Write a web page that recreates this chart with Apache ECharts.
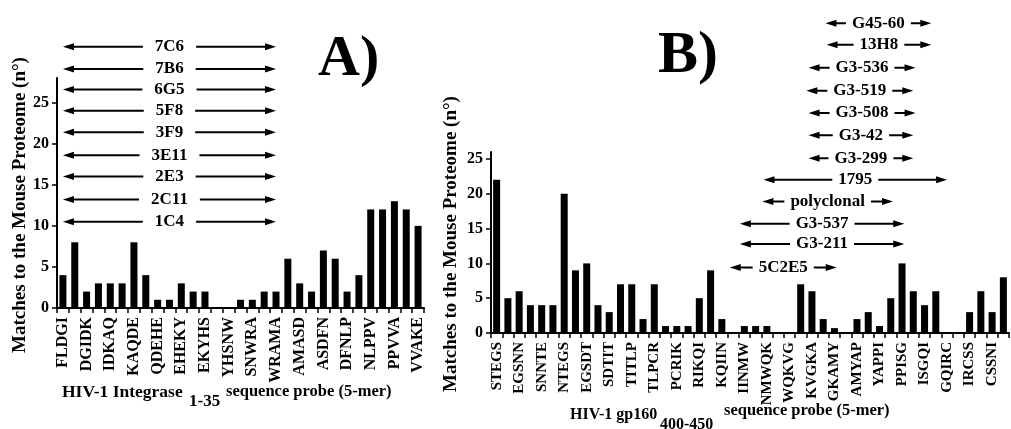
<!DOCTYPE html>
<html>
<head>
<meta charset="utf-8">
<script src="https://cdn.jsdelivr.net/npm/echarts@6/dist/echarts.min.js"></script>
<style>
  html, body { margin: 0; padding: 0; background: #fff; }
  #main { width: 1011px; height: 429px; }
</style>
</head>
<body>
<div id="main"></div>
<script>
// HIV-1 Integrase 1-35, 5-mer probes
var probesA = ['FLDGI','LDGID','DGIDK','GIDKA','IDKAQ','DKAQD','KAQDE','AQDEH','QDEHE','DEHEK',
  'EHEKY','HEKYH','EKYHS','KYHSN','YHSNW','HSNWR','SNWRA','NWRAM','WRAMA','RAMAS',
  'AMASD','MASDF','ASDFN','SDFNL','DFNLP','FNLPP','NLPPV','LPPVV','PPVVA','PVVAK','VVAKE'];
var matchesA = [4, 8, 2, 3, 3, 3, 8, 4, 1, 1, 3, 2, 2, 0, 0, 1, 1, 2, 2, 6, 3, 2, 7, 6, 2, 4, 12, 12, 13, 12, 10];

// HIV-1 gp160 400-450, 5-mer probes
var probesB = ['STEGS','TEGSN','EGSNN','GSNNT','SNNTE','NNTEG','NTEGS','TEGSD','EGSDT','GSDTI',
  'SDTIT','DTITL','TITLP','ITLPC','TLPCR','LPCRI','PCRIK','CRIKQ','RIKQI','IKQII',
  'KQIIN','QIINM','IINMW','INMWQ','NMWQK','MWQKV','WQKVG','QKVGK','KVGKA','VGKAM',
  'GKAMY','KAMYA','AMYAP','MYAPP','YAPPI','APPIS','PPISG','PISGQ','ISGQI','SGQIR',
  'GQIRC','QIRCS','IRCSS','RCSSN','CSSNI','SSNIT'];
var matchesB = [22, 5, 6, 4, 4, 4, 20, 9, 10, 4, 3, 7, 7, 2, 7, 1, 1, 1, 5, 9,
  2, 0, 1, 1, 1, 0, 0, 7, 6, 2, 0.7, 0, 2, 3, 1, 5, 10, 6, 4, 6, 0, 0, 3, 6, 3, 8];

var yTicks = [0, 5, 10, 15, 20, 25];

// antibody spans: [name, from probe index, to probe index, row level (axis units)]
var mabsA = [
  ['7C6', 0, 18, 31.8], ['7B6', 0, 18, 29.1], ['6G5', 0, 18, 26.6],
  ['5F8', 0, 18, 24.0], ['3F9', 0, 18, 21.4], ['3E11', 0, 18, 18.6],
  ['2E3', 0, 18, 16.0], ['2C11', 0, 18, 13.2], ['1C4', 0, 18, 10.5]
];
var mabsB = [
  ['G45-60', 29.2, 38.6, 44.5], ['13H8', 29.3, 38.6, 41.4], ['G3-536', 27.7, 37.2, 38.1],
  ['G3-519', 27.5, 37.0, 34.8], ['G3-508', 27.7, 37.2, 31.6], ['G3-42', 27.7, 37.0, 28.4],
  ['G3-299', 27.7, 37.0, 25.1], ['1795', 23.7, 40.0, 22.0], ['polyclonal', 23.6, 35.2, 18.9],
  ['G3-537', 21.6, 36.2, 15.7], ['G3-211', 21.6, 36.2, 12.8], ['5C2E5', 20.7, 30.2, 9.4]
];

var SERIF = '"Liberation Serif", "Times New Roman", serif';
var chart = echarts.init(document.getElementById('main'), null, { renderer: 'canvas' });

function catAxis(grid, data, size) {
  return {
    type: 'category', gridIndex: grid, data: data,
    axisLine: { lineStyle: { color: '#000', width: 2 } },
    axisTick: { show: true, interval: 0, length: 5, lineStyle: { color: '#000', width: 1.5 } },
    axisLabel: {
      interval: 1, rotate: 90, margin: 9, color: '#000',
      fontFamily: SERIF, fontWeight: 'bold', fontSize: size
    },
    splitLine: { show: false }
  };
}

function valAxis(grid, max) {
  return {
    type: 'value', gridIndex: grid, min: 0, max: max,
    axisLine: { show: true, lineStyle: { color: '#000', width: 2 } },
    axisTick: { show: true, length: 5, customValues: yTicks, lineStyle: { color: '#000', width: 1.5 } },
    axisLabel: {
      customValues: yTicks, margin: 8, color: '#000',
      fontFamily: SERIF, fontWeight: 'bold', fontSize: 16
    },
    splitLine: { show: false }
  };
}

var option = {
  backgroundColor: '#fff',
  animation: false,
  grid: [
    { left: 57, width: 367, top: 78, bottom: 121, outerBoundsMode: 'none', containLabel: false },
    { left: 491, width: 518, top: 152, bottom: 96, outerBoundsMode: 'none', containLabel: false }
  ],
  xAxis: [catAxis(0, probesA, 16), catAxis(1, probesB, 15)],
  yAxis: [valAxis(0, 28), valAxis(1, 26)],
  series: [
    { type: 'bar', xAxisIndex: 0, yAxisIndex: 0, data: matchesA, barWidth: 7,
      itemStyle: { color: '#000' } },
    { type: 'bar', xAxisIndex: 1, yAxisIndex: 1, data: matchesB, barWidth: 7,
      itemStyle: { color: '#000' } }
  ]
};
chart.setOption(option);

function textEl(str, x, y, size, extra) {
  var el = {
    type: 'text', x: x, y: y, z: 120,
    style: {
      text: str, fill: '#000', font: 'bold ' + size + 'px ' + SERIF,
      align: 'left', verticalAlign: 'middle'
    }
  };
  if (extra) {
    for (var k in extra) {
      if (k === 'style') { for (var s in extra.style) el.style[s] = extra.style[s]; }
      else el[k] = extra[k];
    }
  }
  return el;
}

function arrows(list, xi, yi, probes, gap) {
  var x0 = chart.convertToPixel({ xAxisIndex: xi }, probes[0]);
  var step = chart.convertToPixel({ xAxisIndex: xi }, probes[1]) - x0;
  var out = [];
  list.forEach(function (m) {
    var xa = x0 + m[1] * step;
    var xb = x0 + m[2] * step;
    var y = chart.convertToPixel({ yAxisIndex: yi }, m[3]);
    out.push({ type: 'line', z: 100, shape: { x1: xa + 6, y1: y, x2: xb - 6, y2: y },
      style: { stroke: '#000', lineWidth: 2 } });
    out.push({ type: 'polygon', z: 100, shape: { points: [[xa, y], [xa + 11, y - 3.5], [xa + 11, y + 3.5]] },
      style: { fill: '#000' } });
    out.push({ type: 'polygon', z: 100, shape: { points: [[xb, y], [xb - 11, y - 3.5], [xb - 11, y + 3.5]] },
      style: { fill: '#000' } });
    out.push(textEl(m[0], (xa + xb) / 2, y, 17, {
      z: 110, style: { align: 'center', backgroundColor: '#fff', padding: [0, gap] }
    }));
  });
  return out;
}

var yName = 'Matches to the Mouse Proteome (n\u00B0)';
var graphics = []
  .concat(arrows(mabsA, 0, 0, probesA, 12))
  .concat(arrows(mabsB, 1, 1, probesB, 6))
  .concat([
    textEl('A)', 318, 60, 58),
    textEl('B)', 658, 56, 60),
    textEl(yName, 20, 205, 19, { rotation: Math.PI / 2, style: { align: 'center' } }),
    textEl(yName, 451, 244, 19, { rotation: Math.PI / 2, style: { align: 'center' } }),
    textEl('HIV-1 Integrase', 62, 392, 17.5),
    textEl('1-35', 189, 402, 17),
    textEl('sequence probe (5-mer)', 226, 392, 16.5),
    textEl('HIV-1 gp160', 570, 415, 16),
    textEl('400-450', 660, 425, 16),
    textEl('sequence probe (5-mer)', 724, 411, 16.5)
  ]);

chart.setOption({ graphic: graphics });
</script>
</body>
</html>
